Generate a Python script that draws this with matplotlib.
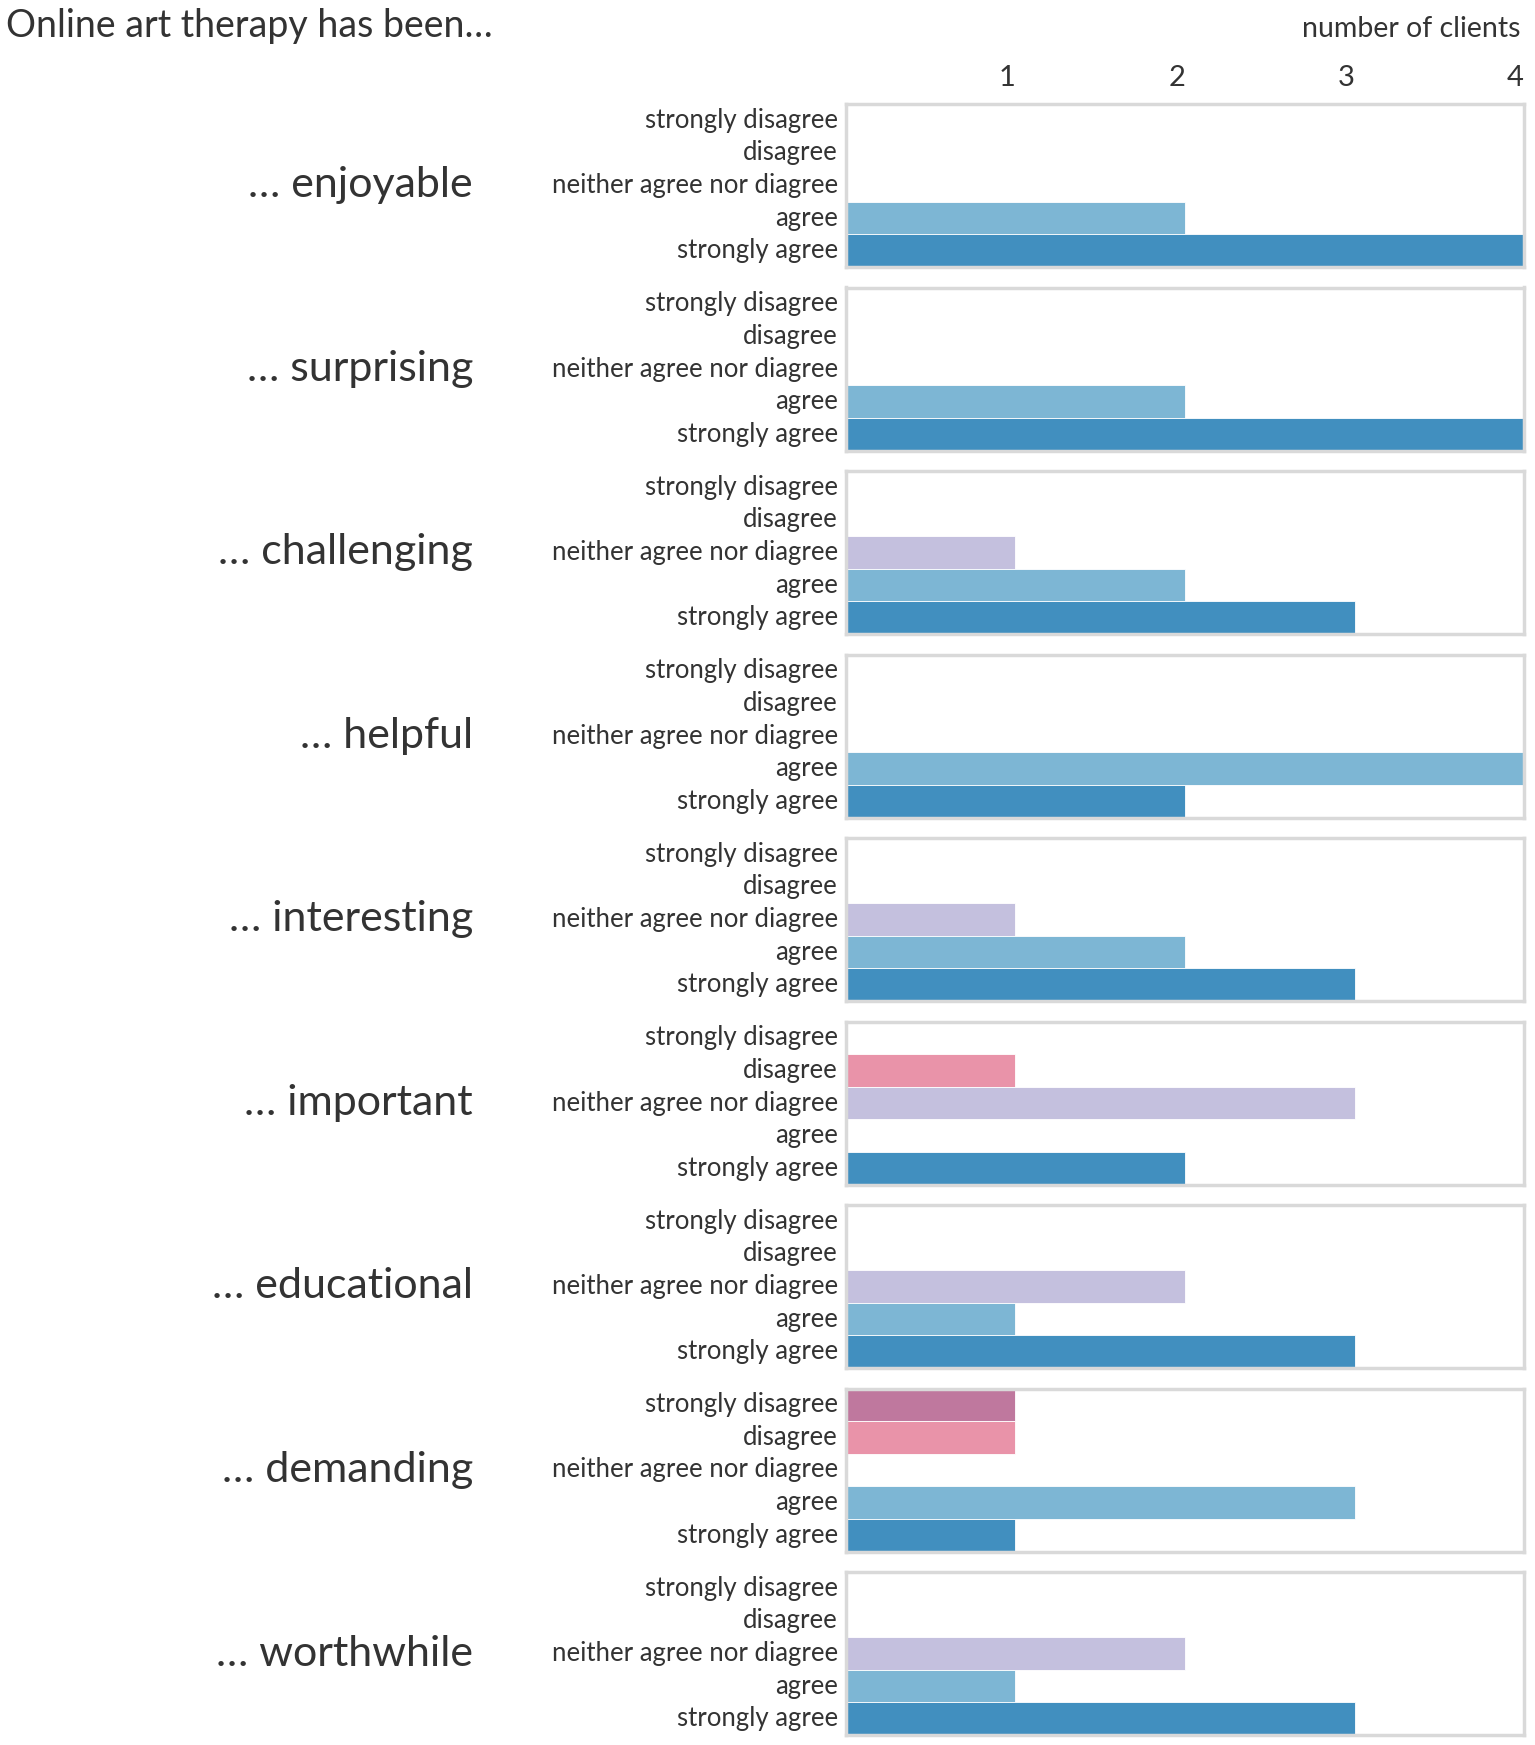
import numpy as np
import matplotlib.pyplot as plt

plt.rcParams['font.family'] = ['Lato', 'DejaVu Sans']

# response categories (top to bottom inside each panel)
responses = ["strongly disagree", "disagree", "neither agree nor diagree",
             "agree", "strongly agree"]
colors = ["#bf789e", "#e993a9", "#c4c0de", "#7db6d4", "#418fbf"]

# statements and counts per response
statements = ["enjoyable", "surprising", "challenging", "helpful", "interesting",
              "important", "educational", "demanding", "worthwhile"]
enjoyable = [0, 0, 0, 2, 4]
surprising = [0, 0, 0, 2, 4]
challenging = [0, 0, 1, 2, 3]
helpful = [0, 0, 0, 4, 2]
interesting = [0, 0, 1, 2, 3]
important = [0, 1, 3, 0, 2]
educational = [0, 0, 2, 1, 3]
demanding = [1, 1, 0, 3, 1]
worthwhile = [0, 0, 2, 1, 3]
counts = [enjoyable, surprising, challenging, helpful, interesting,
          important, educational, demanding, worthwhile]
ticks = [1, 2, 3, 4]

W, H = 1535, 1745
fig = plt.figure(figsize=(W / 100, H / 100), dpi=100)

txt = "#333333"
left, right = 846, 1524
top0, step, ph = 104, 183.5, 163

for i, (name, vals) in enumerate(zip(statements, counts)):
    top = top0 + i * step
    ax = fig.add_axes([left / W, 1 - (top + ph) / H, (right - left) / W, ph / H])
    y = np.arange(len(responses))
    ax.barh(y, vals, height=1.0, color=colors, edgecolor="white", linewidth=0.6)
    ax.set_xlim(0, 4)
    ax.set_ylim(4.5, -0.5)
    ax.set_yticks(y)
    ax.set_yticklabels(responses, fontsize=18.5, color=txt, va="center")
    ax.tick_params(axis="y", length=0, pad=6)
    for s in ax.spines.values():
        s.set_color("#d9d9d9")
        s.set_linewidth(2.5)
    if i == 0:
        ax.xaxis.tick_top()
        ax.set_xticks(ticks)
        ax.set_xticklabels([str(t) for t in ticks], fontsize=21, color=txt, ha="right")
        ax.tick_params(axis="x", length=0, pad=9)
    else:
        ax.set_xticks([])
    fig.text(473 / W, 1 - (top + ph / 2) / H, "\u2026 " + name, fontsize=31,
             color=txt, ha="right", va="center")

fig.text(6 / W, 1 - 26 / H, "Online art therapy has been\u2026", fontsize=27,
         color=txt, ha="left", va="center")
fig.text(1520 / W, 1 - 29 / H, "number of clients", fontsize=20.5,
         color=txt, ha="right", va="center")

fig.savefig("out.png", dpi=100)
